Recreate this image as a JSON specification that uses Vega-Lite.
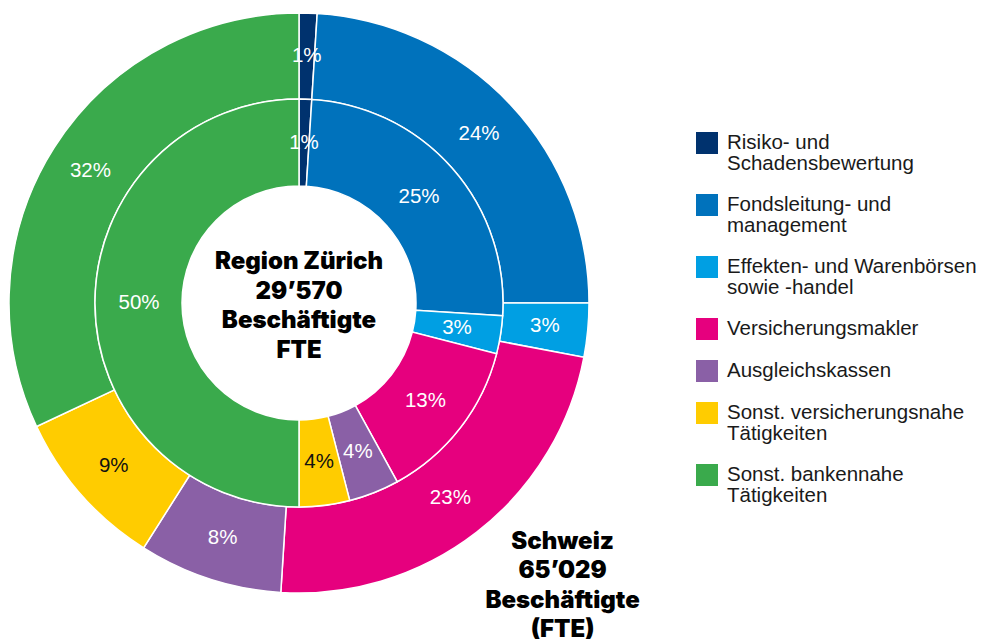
{
  "$schema": "https://vega.github.io/schema/vega-lite/v6.json",
  "width": 598,
  "height": 606,
  "padding": 0,
  "background": "white",
  "config": {"view": {"stroke": null}, "font": "Liberation Sans", "style": {"guide-label": {"lineHeight": 20.5}}},
  "datasets": {
    "rings": [
      {"ring": "Schweiz", "idx": 1, "cat": "Risiko- und\nSchadensbewertung", "pct": 0.01},
      {"ring": "Schweiz", "idx": 2, "cat": "Fondsleitung- und\nmanagement", "pct": 0.24},
      {"ring": "Schweiz", "idx": 3, "cat": "Effekten- und Warenbörsen\nsowie -handel", "pct": 0.03},
      {"ring": "Schweiz", "idx": 4, "cat": "Versicherungsmakler", "pct": 0.23},
      {"ring": "Schweiz", "idx": 5, "cat": "Ausgleichskassen", "pct": 0.08},
      {"ring": "Schweiz", "idx": 6, "cat": "Sonst. versicherungsnahe\nTätigkeiten", "pct": 0.09},
      {"ring": "Schweiz", "idx": 7, "cat": "Sonst. bankennahe\nTätigkeiten", "pct": 0.32},
      {"ring": "Zürich", "idx": 1, "cat": "Risiko- und\nSchadensbewertung", "pct": 0.01},
      {"ring": "Zürich", "idx": 2, "cat": "Fondsleitung- und\nmanagement", "pct": 0.25},
      {"ring": "Zürich", "idx": 3, "cat": "Effekten- und Warenbörsen\nsowie -handel", "pct": 0.03},
      {"ring": "Zürich", "idx": 4, "cat": "Versicherungsmakler", "pct": 0.13},
      {"ring": "Zürich", "idx": 5, "cat": "Ausgleichskassen", "pct": 0.04},
      {"ring": "Zürich", "idx": 6, "cat": "Sonst. versicherungsnahe\nTätigkeiten", "pct": 0.04},
      {"ring": "Zürich", "idx": 7, "cat": "Sonst. bankennahe\nTätigkeiten", "pct": 0.50}
    ],
    "notes": [
      {"where": "center", "text": "Region Zürich\n29’570\nBeschäftigte\nFTE", "angle": 0},
      {"where": "outside", "text": "Schweiz\n65’029\nBeschäftigte\n(FTE)", "angle": 0.38}
    ]
  },
  "data": {"name": "rings"},
  "layer": [
    {
      "transform": [{"filter": "datum.ring === 'Schweiz'"}],
      "mark": {"type": "arc", "radius": 290, "radius2": 204, "stroke": "white", "strokeWidth": 1.5},
      "encoding": {
        "theta": {"field": "pct", "type": "quantitative", "stack": true},
        "order": {"field": "idx", "type": "quantitative"},
        "color": {
          "field": "cat", "type": "nominal",
          "scale": {
            "domain": ["Risiko- und\nSchadensbewertung", "Fondsleitung- und\nmanagement", "Effekten- und Warenbörsen\nsowie -handel", "Versicherungsmakler", "Ausgleichskassen", "Sonst. versicherungsnahe\nTätigkeiten", "Sonst. bankennahe\nTätigkeiten"],
            "range": ["#00326e", "#0072bc", "#009fe3", "#e6007e", "#8a60a6", "#ffcc00", "#3aaa4c"]
          },
          "legend": {
            "orient": "none", "legendX": 696, "legendY": 132, "title": null,
            "symbolType": "square", "symbolSize": 484, "symbolStrokeWidth": 0,
            "labelFont": "Liberation Sans", "labelFontSize": 20.5, "labelColor": "#1a1a1a",
            "labelExpr": "split(datum.label, '\\n')", "rowPadding": 20, "labelOffset": 9, "labelLimit": 400,
            "encode": {"labels": {"update": {"lineHeight": {"value": 20.5}}}}
          }
        }
      }
    },
    {
      "transform": [{"filter": "datum.ring === 'Zürich'"}],
      "mark": {"type": "arc", "radius": 204, "radius2": 117, "stroke": "white", "strokeWidth": 1.5},
      "encoding": {
        "theta": {"field": "pct", "type": "quantitative", "stack": true},
        "order": {"field": "idx", "type": "quantitative"},
        "color": {"field": "cat", "type": "nominal"}
      }
    },
    {
      "transform": [{"filter": "datum.ring === 'Schweiz'"}],
      "mark": {"type": "text", "radius": 247, "fontSize": 20.5, "font": "Liberation Sans"},
      "encoding": {
        "theta": {"field": "pct", "type": "quantitative", "stack": true},
        "order": {"field": "idx", "type": "quantitative"},
        "detail": {"field": "cat"},
        "text": {"field": "pct", "type": "quantitative", "format": ".0%"},
        "color": {"condition": {"test": "datum.idx === 6", "value": "#111111"}, "value": "white"}
      }
    },
    {
      "transform": [{"filter": "datum.ring === 'Zürich'"}],
      "mark": {"type": "text", "radius": 160, "fontSize": 20.5, "font": "Liberation Sans"},
      "encoding": {
        "theta": {"field": "pct", "type": "quantitative", "stack": true},
        "order": {"field": "idx", "type": "quantitative"},
        "detail": {"field": "cat"},
        "text": {"field": "pct", "type": "quantitative", "format": ".0%"},
        "color": {"condition": {"test": "datum.idx === 6", "value": "#111111"}, "value": "white"}
      }
    },
    {
      "data": {"name": "notes"},
      "transform": [{"filter": "datum.where === 'center'"}],
      "mark": {"type": "text", "font": "Inter", "fontWeight": 900, "fontSize": 24, "lineHeight": 29.5, "lineBreak": "\n", "baseline": "middle", "align": "center", "dy": -41, "color": "black"},
      "encoding": {"text": {"field": "text"}}
    },
    {
      "data": {"name": "notes"},
      "transform": [{"filter": "datum.where === 'outside'"}],
      "mark": {"type": "text", "radius": 385, "font": "Inter", "fontWeight": 900, "fontSize": 24, "lineHeight": 29.5, "lineBreak": "\n", "baseline": "middle", "align": "center", "dy": -42, "color": "black"},
      "encoding": {
        "theta": {"field": "angle", "type": "quantitative"},
        "text": {"field": "text"}
      }
    }
  ]
}
